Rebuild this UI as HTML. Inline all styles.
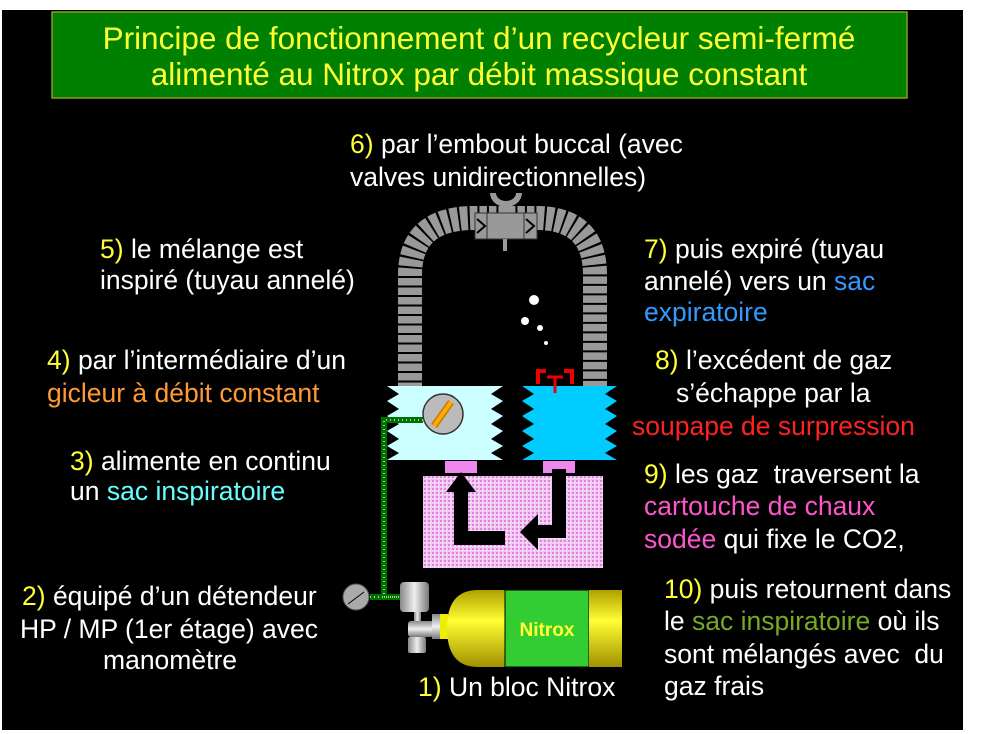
<!DOCTYPE html>
<html><head><meta charset="utf-8"><style>
html,body{margin:0;padding:0;background:#fff;}
svg{display:block;}
text{font-family:"Liberation Sans",Arial,sans-serif;font-size:26.5px;fill:#fff;}
</style></head><body>
<svg width="987" height="734" viewBox="0 0 987 734" xmlns="http://www.w3.org/2000/svg">
<defs>
<pattern id="dots" width="4" height="4" patternUnits="userSpaceOnUse">
<rect width="4" height="4" fill="#f0c8f0"/><rect x="0" y="0" width="2" height="2" fill="#e080e0"/><rect x="2" y="2" width="1" height="1" fill="#fff"/>
</pattern>
<linearGradient id="yel" x1="0" y1="0" x2="0" y2="1">
<stop offset="0" stop-color="#b0a000"/><stop offset="0.4" stop-color="#ffff33"/><stop offset="1" stop-color="#a09000"/>
</linearGradient>
<linearGradient id="gry" x1="0" y1="0" x2="1" y2="0">
<stop offset="0" stop-color="#888"/><stop offset="0.5" stop-color="#eee"/><stop offset="1" stop-color="#777"/>
</linearGradient>
<linearGradient id="gryv" x1="0" y1="0" x2="0" y2="1">
<stop offset="0" stop-color="#888"/><stop offset="0.5" stop-color="#f0f0f0"/><stop offset="1" stop-color="#777"/>
</linearGradient>
</defs>
<rect x="2" y="10" width="961" height="720" fill="#000"/>
<!-- title -->
<rect x="52" y="12" width="855" height="86" fill="#008000" stroke="#8a9a20" stroke-width="1.5"/>
<text x="479" y="49" text-anchor="middle" style="font-size:31.5px;fill:#ffff33">Principe de fonctionnement d’un recycleur semi-fermé</text>
<text x="479" y="85" text-anchor="middle" style="font-size:31.5px;fill:#ffff33">alimenté au Nitrox par débit massique constant</text>

<!-- hoses -->
<path d="M410,392 L410,275 Q410,220 470,218 L540,218 Q595,220 595,275 L595,392" fill="none" stroke="#999" stroke-width="24"/>
<path d="M410,392 L410,275 Q410,220 470,218 L540,218 Q595,220 595,275 L595,392" fill="none" stroke="#000" stroke-width="26" stroke-dasharray="2 7.5"/>
<!-- mouthpiece -->
<path d="M490,193 A16,14 0 0 0 522,193 L516,193 A10,8 0 0 1 496,193 Z" fill="#999"/>
<rect x="503" y="203" width="6" height="12" fill="#999"/>
<rect x="475" y="213" width="62" height="26" fill="#999" stroke="#333"/>
<line x1="487" y1="213" x2="487" y2="239" stroke="#333"/><line x1="524" y1="213" x2="524" y2="239" stroke="#333"/>
<path d="M477,219 L485,226 L477,233 M526,219 L534,226 L526,233" fill="none" stroke="#000" stroke-width="2"/>
<rect x="503" y="239" width="4" height="12" fill="#999"/>
<!-- bubbles -->
<circle cx="534" cy="300" r="5" fill="#fff"/><circle cx="525" cy="321" r="4" fill="#fff"/><circle cx="540" cy="328" r="3" fill="#fff"/><circle cx="546" cy="343" r="2" fill="#fff"/>
<!-- bags -->
<path d="M387,386 L503,386 L491,394 L503,401 L491,409 L503,416 L491,424 L503,431 L491,439 L503,446 L491,453 L503,460 L387,460 L399,453 L387,446 L399,439 L387,431 L399,424 L387,416 L399,409 L387,401 L399,394 Z" fill="#ccffff"/>
<path d="M522,386 L617,386 L605,394 L617,401 L605,409 L617,416 L605,424 L617,431 L605,439 L617,446 L605,453 L617,460 L522,460 L534,453 L522,446 L534,439 L522,431 L534,424 L522,416 L534,409 L522,401 L534,394 Z" fill="#00ccff"/>
<!-- red valve -->
<path d="M538,384 L538,371 L546,371 M572,384 L572,371 L564,371" fill="none" stroke="#e00" stroke-width="4"/>
<path d="M547,377 L563,377 M555,377 L555,393" fill="none" stroke="#e00" stroke-width="3"/>
<!-- gauge on bag -->
<circle cx="443" cy="414" r="20" fill="#bbb" stroke="#333" stroke-width="1.5"/>
<line x1="434" y1="426" x2="451" y2="402" stroke="#cc7700" stroke-width="7"/>
<line x1="434" y1="426" x2="451" y2="402" stroke="#ffaa00" stroke-width="4"/>
<!-- pink tabs & cartridge -->
<rect x="445" y="461" width="32" height="12" fill="#ee88ee"/>
<rect x="543" y="461" width="32" height="12" fill="#ee88ee"/>
<rect x="423" y="476" width="180" height="92" fill="url(#dots)"/>
<!-- arrows -->
<path d="M454,545 L454,492 L446,492 L461,472 L476,492 L468,492 L468,531 L505,531 L505,545 Z" fill="#000"/>
<path d="M552,469 L566,469 L566,538 L538,538 L538,550 L520,532 L538,514 L538,525 L552,525 Z" fill="#000"/>
<!-- green pipe -->
<path d="M423,420 L384,420 L384,597 L405,597 M370,597 L405,597" fill="none" stroke="#007000" stroke-width="6"/>
<path d="M423,420 L384,420 L384,597 L405,597 M370,597 L405,597" fill="none" stroke="#cfc" stroke-width="1.5" stroke-dasharray="1 3"/>
<!-- manometer -->
<circle cx="356" cy="597" r="13" fill="#aaa" stroke="#555"/>
<line x1="348" y1="604" x2="364" y2="592" stroke="#000" stroke-width="1"/>
<!-- regulator -->
<rect x="400" y="582" width="29" height="30" rx="4" fill="url(#gry)"/>
<rect x="414" y="612" width="7" height="9" fill="url(#gry)"/>
<rect x="408" y="621" width="26" height="16" rx="3" fill="url(#gryv)"/>
<rect x="408" y="637" width="18" height="16" rx="2" fill="url(#gry)"/>
<rect x="432" y="614" width="8" height="25" fill="url(#gryv)"/>
<rect x="440" y="614" width="8" height="25" fill="#ee0"/>
<!-- tank -->
<path d="M505,590 L505,667 L478,667 Q447,667 447,628 Q447,590 478,590 Z" fill="url(#yel)"/>
<rect x="505" y="590" width="84" height="77" fill="#33cc33" stroke="#000"/>
<rect x="589" y="590" width="33" height="77" fill="url(#yel)"/>
<text x="547" y="636" text-anchor="middle" style="font-size:19px;font-weight:bold;fill:#ffff33">Nitrox</text>

<!-- labels -->
<text x="350" y="153"><tspan fill="#ffff33">6)</tspan> par l’embout buccal (avec</text>
<text x="350" y="186">valves unidirectionnelles)</text>
<text x="100" y="258"><tspan fill="#ffff33">5)</tspan> le mélange est</text>
<text x="100" y="289">inspiré (tuyau annelé)</text>
<text x="47" y="369"><tspan fill="#ffff33">4)</tspan> par l’intermédiaire d’un</text>
<text x="47" y="402" style="fill:#ff9933">gicleur à débit constant</text>
<text x="70" y="470"><tspan fill="#ffff33">3)</tspan> alimente en continu</text>
<text x="70" y="500">un <tspan fill="#66ffff">sac inspiratoire</tspan></text>
<text x="22" y="605"><tspan fill="#ffff33">2)</tspan> équipé d’un détendeur</text>
<text x="20" y="638">HP / MP (1er étage) avec</text>
<text x="103" y="669">manomètre</text>
<text x="418" y="696"><tspan fill="#ffff33">1)</tspan> Un bloc Nitrox</text>
<text x="644" y="258"><tspan fill="#ffff33">7)</tspan> puis expiré (tuyau</text>
<text x="644" y="290">annelé) vers un <tspan fill="#3399ff">sac</tspan></text>
<text x="644" y="321" style="fill:#3399ff">expiratoire</text>
<text x="655" y="369"><tspan fill="#ffff33">8)</tspan> l’excédent de gaz</text>
<text x="676" y="402">s’échappe par la</text>
<text x="632" y="435" style="fill:#ff2222">soupape de surpression</text>
<text x="644" y="483" xml:space="preserve"><tspan fill="#ffff33">9)</tspan> les gaz  traversent la</text>
<text x="644" y="515" style="fill:#ff55cc">cartouche de chaux</text>
<text x="644" y="548"><tspan fill="#ff55cc">sodée</tspan> qui fixe le CO2,</text>
<text x="664" y="598"><tspan fill="#ffff33">10)</tspan> puis retournent dans</text>
<text x="664" y="630">le <tspan fill="#77aa22">sac inspiratoire</tspan> où ils</text>
<text x="664" y="663" xml:space="preserve">sont mélangés avec  du</text>
<text x="664" y="695">gaz frais</text>
</svg>
</body></html>
